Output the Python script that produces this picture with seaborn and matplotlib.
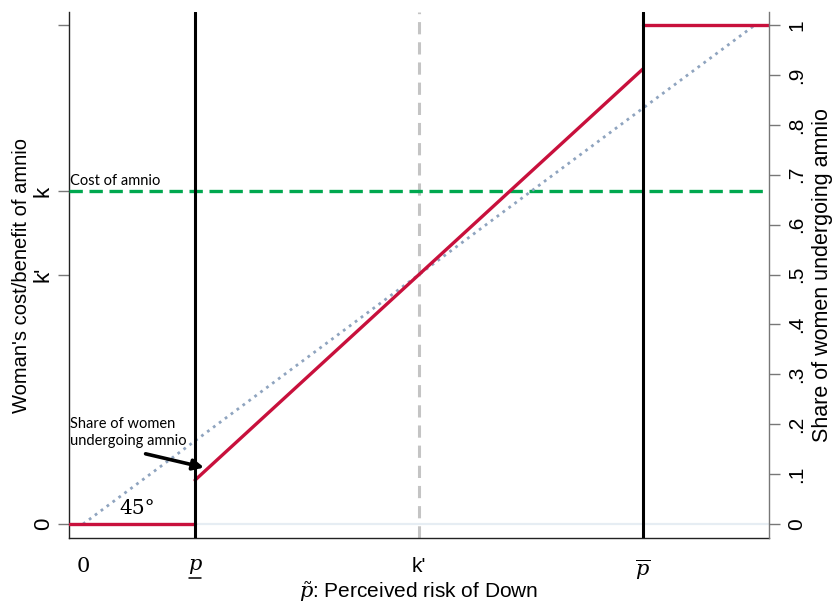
import matplotlib
matplotlib.use("Agg")
import matplotlib.pyplot as plt
from matplotlib.lines import Line2D
import seaborn as sns

sns.set_theme(style="white")
plt.rcParams["font.family"] = ["Liberation Sans", "DejaVu Sans"]
plt.rcParams["mathtext.fontset"] = "dejavuserif"
plt.rcParams["text.color"] = "black"
plt.rcParams["axes.labelcolor"] = "black"
plt.rcParams["xtick.color"] = "black"
plt.rcParams["ytick.color"] = "black"

# Key thresholds of the model
p_low = 1 / 6
k_prime = 0.5
p_high = 5 / 6
k_cost = 2 / 3

# Share of women undergoing amnio (piecewise)
below_x = [-0.021, p_low]
below_y = [0.0, 0.0]
middle_x = [p_low, p_high]
middle_y = [0.088, 0.912]
above_x = [p_high, 1.021]
above_y = [1.0, 1.0]

# 45 degree reference
diag_x = [0.0, 1.0]
diag_y = [0.0, 1.0]

# Axis ticks
x_ticks = [0.0, p_low, k_prime, p_high]
left_ticks = [0.0, k_prime, k_cost, 1.0]
left_labels = ["0", "k'", "k", ""]
right_ticks = [0.0, 0.1, 0.2, 0.3, 0.4, 0.5, 0.6, 0.7, 0.8, 0.9, 1.0]
right_labels = ["0", ".1", ".2", ".3", ".4", ".5", ".6", ".7", ".8", ".9", "1"]

RED = "#c8103c"
GREEN = "#00a84f"
DOT = "#8fa4bf"
GREY = "#c4c4c4"

fig = plt.figure(figsize=(8.33, 6.03), dpi=100)
ax = fig.add_axes([0.0828, 0.1078, 0.8404, 0.8722])
xlim = (-0.021, 1.021)
ylim = (-0.028, 1.026)

ax.axhline(0, color="#e6edf3", lw=1.6, zorder=1)
ax.axvline(k_prime, color=GREY, lw=2.2, ls=(0, (4, 2.6)), zorder=2)
ax.axhline(k_cost, color=GREEN, lw=2.4, ls=(0, (4, 2)), zorder=3)

sns.lineplot(x=diag_x, y=diag_y, ax=ax, color=DOT, lw=2.0, ls=":", zorder=3)
for xs, ys in [(below_x, below_y), (middle_x, middle_y), (above_x, above_y)]:
    sns.lineplot(x=xs, y=ys, ax=ax, color=RED, lw=2.4, zorder=4)

ax.axvline(p_low, color="black", lw=2.2, zorder=5)
ax.axvline(p_high, color="black", lw=2.2, zorder=5)

ax.set_xlim(*xlim)
ax.set_ylim(*ylim)

for s in ["top", "right"]:
    ax.spines[s].set_visible(False)
ax.spines["left"].set_color("#222222")
ax.spines["bottom"].set_color("#222222")
ax.spines["left"].set_linewidth(1.0)
ax.spines["bottom"].set_linewidth(1.0)

ax.set_xticks(x_ticks)
ax.set_xticklabels(["0", r"$p$", "k'", r"$\overline{p}$"])
xl = ax.get_xticklabels()
xl[0].set_fontfamily("DejaVu Serif")
for t in xl:
    t.set_fontsize(15)
ax.tick_params(axis="x", length=8, width=1, color="#555555", pad=6)

ax.set_yticks(left_ticks)
ax.set_yticklabels(left_labels, rotation=90, va="center", fontsize=16)
ax.tick_params(axis="y", length=8, width=1, color="#777777", pad=3, left=True)
ax.yaxis.get_major_ticks()[2].tick1line.set_visible(False)

ax.set_xlabel(r"$\tilde{p}$: Perceived risk of Down", fontsize=15, labelpad=-2)
ax.set_ylabel("Woman's cost/benefit of amnio", fontsize=14.5, labelpad=1)

ax2 = ax.twinx()
ax2.set_ylim(*ylim)
ax2.set_yticks(right_ticks)
ax2.set_yticklabels(right_labels, rotation=90, va="center", fontsize=15)
ax2.tick_params(axis="y", length=8, width=1, color="#777777", pad=5, right=True)
for s in ["top", "left", "bottom"]:
    ax2.spines[s].set_visible(False)
ax2.spines["right"].set_color("#777777")
ax2.spines["right"].set_linewidth(1.0)
ax2.set_ylabel("Share of women undergoing amnio", fontsize=15.5, labelpad=4)

note_font = ["Lato", "DejaVu Sans"]
ax.text(-0.019, k_cost + 0.006, "Cost of amnio", fontsize=10.5,
        family=note_font, va="bottom", ha="left")
ax.text(-0.019, 0.152, "Share of women\nundergoing amnio", fontsize=10.5,
        family=note_font, va="bottom", ha="left", linespacing=1.25)
ax.annotate("", xy=(0.184, 0.112), xytext=(0.089, 0.142),
            arrowprops=dict(arrowstyle="-|>", color="black", lw=2.6,
                            mutation_scale=16))
ax.text(0.081, 0.012, "45°", fontsize=14.5, family="DejaVu Serif",
        ha="center", va="bottom")

# underline the lower-threshold tick label
fig.canvas.draw()
bb = xl[1].get_window_extent()
under_y = bb.y0 - 2
fig.add_artist(Line2D([bb.x0 + 1, bb.x1 - 1], [under_y, under_y],
                      transform=None, color="black", lw=1.1))

fig.savefig("out.png", dpi=100)
